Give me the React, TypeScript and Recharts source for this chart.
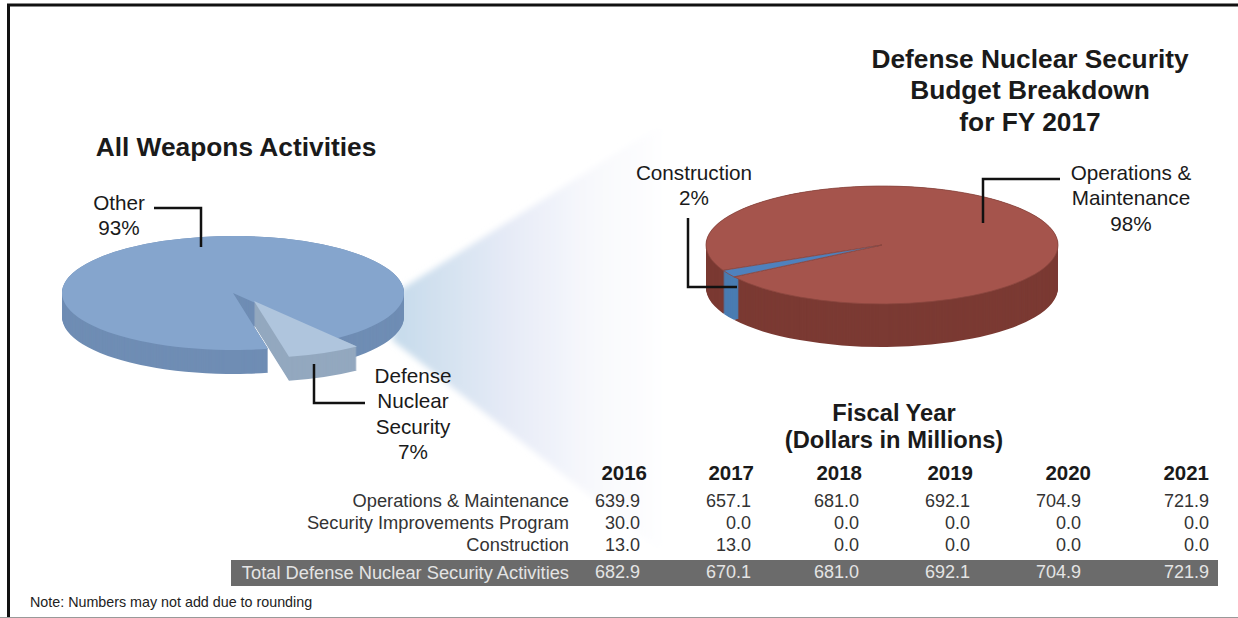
import { PieChart, Pie, Cell, Sector } from 'recharts'

const weaponNames = ['Other', 'Defense Nuclear Security']
const weaponValues = [93, 7]
const budgetNames = ['Operations & Maintenance', 'Construction']
const budgetValues = [98, 2]

const years = ['2016', '2017', '2018', '2019', '2020', '2021']
const rowLabels = ['Operations & Maintenance', 'Security Improvements Program', 'Construction']
const opsValues = ['639.9', '657.1', '681.0', '692.1', '704.9', '721.9']
const securityValues = ['30.0', '0.0', '0.0', '0.0', '0.0', '0.0']
const constructionValues = ['13.0', '13.0', '0.0', '0.0', '0.0', '0.0']
const totalLabel = 'Total Defense Nuclear Security Activities'
const totalValues = ['682.9', '670.1', '681.0', '692.1', '704.9', '721.9']

const weaponData = weaponNames.map((name, i) => ({ name, value: weaponValues[i] }))
const budgetData = budgetNames.map((name, i) => ({ name, value: budgetValues[i] }))

const FONT = '"Liberation Sans", Arial, sans-serif'
const yearRight = [647, 754, 862, 973, 1091, 1209]
const valueRight = [640, 751, 859, 970, 1081, 1209]

// squashes a flat slice into an ellipse, a stack of copies gives the wall.
// ring > 0 stacks only the rim, for pies with no pulled-out slice
function slice3d(squash: number, depth: number, explode?: { dx: number; dy: number; index: number } | null, ring = 0, edge = 'none') {
  return (props: any) => {
    const { cx, cy, index } = props
    const off = explode && explode.index === index ? explode : { dx: 0, dy: 0 }
    const layers = []
    for (let i = depth; i >= 0; i--) layers.push(i)
    return (
      <g>
        {layers.map((i) => (
          <g
            key={i}
            transform={`translate(${off.dx} ${off.dy + i}) translate(${cx} ${cy}) scale(1 ${squash}) translate(${-cx} ${-cy})`}
          >
            <Sector
              cx={cx}
              cy={cy}
              innerRadius={ring ? props.outerRadius - ring : 0}
              outerRadius={props.outerRadius}
              startAngle={props.startAngle}
              endAngle={props.endAngle}
              fill={props.fill}
              stroke={edge}
              strokeWidth={0.8}
              vectorEffect="non-scaling-stroke"
            />
          </g>
        ))}
      </g>
    )
  }
}

function Label({ x, y, w, align = 'center', size = 20.7, bold = false, color = '#1a1a1a', children }: any) {
  const left = align === 'right' ? x - w : align === 'center' ? x - w / 2 : x
  return (
    <div
      style={{
        position: 'absolute',
        left,
        top: y,
        width: w,
        textAlign: align,
        fontSize: size,
        fontWeight: bold ? 700 : 400,
        color,
        lineHeight: 1,
        transform: 'translateY(-50%)',
        whiteSpace: 'nowrap',
      }}
    >
      {children}
    </div>
  )
}

const rows = [opsValues, securityValues, constructionValues]
const rowY = [501, 523, 545]

export default function App() {
  return (
    <div style={{ position: 'absolute', left: 0, top: 0, width: 1238, height: 618, background: '#fff', overflow: 'hidden', fontFamily: FONT }}>
      {/* frame and zoom fan behind the pies */}
      <svg width={1238} height={618} style={{ position: 'absolute', left: 0, top: 0 }}>
        <defs>
          <linearGradient id="fan" gradientUnits="userSpaceOnUse" x1="395" y1="0" x2="670" y2="0">
            <stop offset="0" stopColor="#c6dbeb" />
            <stop offset="0.4" stopColor="#e5eaf6" />
            <stop offset="0.7" stopColor="#f7f8fc" />
            <stop offset="1" stopColor="#ffffff" />
          </linearGradient>
          <filter id="soft">
            <feGaussianBlur stdDeviation="3" />
          </filter>
        </defs>
        <polygon points="400,290 672,118 672,560 392,340" fill="url(#fan)" filter="url(#soft)" />
        <rect x={8.5} y={5} width={1240} height={700} fill="none" stroke="#111" strokeWidth={3} />
        <line x1={0} y1={617.5} x2={1238} y2={617.5} stroke="#999" strokeWidth={1} />
      </svg>

      <div style={{ position: 'absolute', left: 0, top: 0 }}>
        <PieChart width={1238} height={618} margin={{ top: 0, right: 0, bottom: 0, left: 0 }}>
          {/* walls first, tops after, so a wall never covers another slice's top */}
          <Pie data={weaponData} dataKey="value" cx={233} cy={293} outerRadius={171} startAngle={-53} endAngle={307} stroke="none"
            isAnimationActive={false} shape={slice3d(1 / 3, 24, { dx: 21, dy: 8, index: 1 })}>
            <Cell fill="#6f8db4" />
            <Cell fill="#93a8bf" />
          </Pie>
          <Pie data={weaponData} dataKey="value" cx={233} cy={293} outerRadius={171} startAngle={-53} endAngle={307} stroke="none"
            isAnimationActive={false} shape={slice3d(1 / 3, 0, { dx: 21, dy: 8, index: 1 })}>
            <Cell fill="#85a5cd" />
            <Cell fill="#afc5dd" />
          </Pie>
          <Pie data={budgetData} dataKey="value" cx={882} cy={245} outerRadius={176} startAngle={212.7} endAngle={572.7} stroke="none"
            isAnimationActive={false} shape={slice3d(0.335, 43, null, 6)}>
            <Cell fill="#7b3a33" />
            <Cell fill="#4a7cb2" />
          </Pie>
          <Pie data={budgetData} dataKey="value" cx={882} cy={245} outerRadius={176} startAngle={212.7} endAngle={572.7} stroke="none"
            isAnimationActive={false} shape={slice3d(0.335, 0, null, 0, '#8a463f')}>
            <Cell fill="#a5544c" />
            <Cell fill="#4f81bd" />
          </Pie>
        </PieChart>
      </div>

      {/* leader lines */}
      <svg width={1238} height={618} style={{ position: 'absolute', left: 0, top: 0 }}>
        <g fill="none" stroke="#111" strokeWidth={2.5}>
          <polyline points="154,208 201,208 201,247" />
          <polyline points="314,364 314,403 365,403" />
          <polyline points="688,218 688,287 737,287" />
          <polyline points="983,223 983,179 1060,179" />
        </g>
      </svg>

      <Label x={236} y={147} w={400} size={26.3} bold>All Weapons Activities</Label>
      <Label x={1030} y={59} w={400} size={26.3} bold>Defense Nuclear Security</Label>
      <Label x={1030} y={90} w={400} size={26.3} bold>Budget Breakdown</Label>
      <Label x={1030} y={122} w={400} size={26.3} bold>for FY 2017</Label>

      <Label x={119} y={203} w={100}>Other</Label>
      <Label x={119} y={228} w={100}>93%</Label>
      <Label x={413} y={376} w={120}>Defense</Label>
      <Label x={413} y={401} w={120}>Nuclear</Label>
      <Label x={413} y={427} w={120}>Security</Label>
      <Label x={413} y={452} w={120}>7%</Label>
      <Label x={694} y={173} w={160}>Construction</Label>
      <Label x={694} y={198} w={160}>2%</Label>
      <Label x={1131} y={173} w={200}>Operations &amp;</Label>
      <Label x={1131} y={198} w={200}>Maintenance</Label>
      <Label x={1131} y={224} w={200}>98%</Label>

      <Label x={894} y={414} w={300} size={23.7} bold>Fiscal Year</Label>
      <Label x={894} y={441} w={300} size={23.7} bold>(Dollars in Millions)</Label>

      {years.map((y, i) => (
        <Label key={y} x={yearRight[i]} y={473} w={80} align="right" size={20.5} bold>{y}</Label>
      ))}
      {rowLabels.map((l, r) => (
        <Label key={l} x={569} y={rowY[r]} w={340} align="right" size={18.3} color="#333">{l}</Label>
      ))}
      {rows.map((vals, r) =>
        vals.map((v, i) => (
          <Label key={`${r}-${i}`} x={valueRight[i]} y={rowY[r]} w={80} align="right" size={18} color="#333">{v}</Label>
        ))
      )}

      <div style={{ position: 'absolute', left: 231, top: 560, width: 987, height: 26, background: '#6b6b6b' }} />
      <Label x={569} y={573} w={340} align="right" size={18.3} color="#e4e4e4">{totalLabel}</Label>
      {totalValues.map((v, i) => (
        <Label key={i} x={valueRight[i]} y={572} w={80} align="right" size={18} color="#e4e4e4">{v}</Label>
      ))}

      <Label x={30} y={602} w={400} align="left" size={14.3} color="#222">Note: Numbers may not add due to rounding</Label>
    </div>
  )
}
